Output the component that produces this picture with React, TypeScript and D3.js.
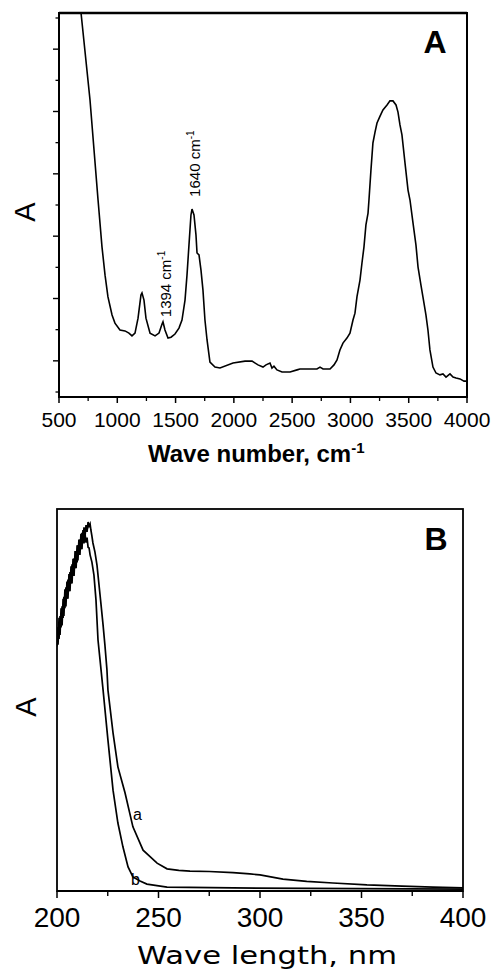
import React from "react";
import * as d3 from "d3";

// Panel A: IR spectrum
const irWavenumber = [689,766,835,869,895,920,955,980,1023,1066,1100,1126,1152,1178,1203,1212,1229,1246,1281,1324,1358,1384,1392,1409,1435,1461,1495,1529,1555,1581,1598,1615,1632,1641,1658,1675,1684,1701,1718,1735,1752,1770,1795,1838,1881,1993,2096,2156,2207,2250,2276,2310,2327,2344,2370,2413,2482,2542,2567,2713,2739,2765,2825,2859,2885,2910,2936,2970,2996,3022,3039,3056,3082,3099,3116,3133,3151,3159,3176,3193,3211,3228,3254,3279,3314,3339,3365,3391,3408,3425,3442,3468,3494,3511,3537,3562,3580,3605,3622,3648,3665,3682,3708,3734,3768,3794,3820,3854,3880,3906,3940,3974,4000];
const irAbs = [12.16,9.37,6.16,4.65,3.75,3.05,2.47,2.21,1.99,1.96,1.89,1.80,1.89,2.37,3.11,3.18,2.95,2.37,1.89,1.80,1.89,2.18,2.25,1.99,1.73,1.76,1.86,2.05,2.31,2.95,3.75,4.72,5.68,5.87,5.68,5.04,4.46,4.40,3.91,3.27,2.31,1.67,0.96,0.80,0.77,0.93,0.99,0.99,0.87,0.80,0.87,0.93,0.77,0.83,0.71,0.64,0.64,0.71,0.74,0.74,0.80,0.74,0.74,0.87,1.03,1.35,1.57,1.73,1.89,2.31,2.53,3.05,3.59,4.14,4.65,5.36,5.74,6.16,7.12,7.99,8.34,8.63,8.85,9.05,9.21,9.34,9.34,9.21,8.98,8.57,8.25,7.35,6.48,6.16,5.42,4.72,4.01,3.43,3.05,2.47,1.99,1.35,0.80,0.61,0.55,0.58,0.48,0.58,0.48,0.45,0.42,0.35,0.35];
const irXTicks = [500,1000,1500,2000,2500,3000,3500,4000];
const irXMinor = [750,1250,1750,2250,2750,3250,3750];
const irYMajor = [1,3,5,7,9,11];
const irYMinor = [0,2,4,6,8,10,12];
const irPeaks = [
  { wn: 1394, label: "1394 cm", at: 2.4 },
  { wn: 1640, label: "1640 cm", at: 6.26 },
];

// Panel B: UV spectra
const uvNmA = [200.0,200.5,201.0,201.5,202.0,202.5,203.0,203.4,203.9,204.4,204.9,205.4,205.9,206.4,206.9,207.4,207.9,208.4,208.9,209.4,209.9,210.3,210.8,211.3,211.8,212.3,212.8,213.3,213.8,214.3,214.8,215.3,215.8,216.3,216.7,217.2,217.7,218.7,219.7,220.7,221.7,222.7,223.6,224.6,225.1,227.6,230.0,233.5,237.4,242.4,249.3,254.2,260.0,265.5,275.0,286.7,295.0,300.0,311.3,323.0,335.9,352.7,370.0,385.2,400.0];
const uvAbsA = [0.640,0.690,0.660,0.720,0.690,0.745,0.715,0.770,0.740,0.795,0.765,0.815,0.785,0.835,0.805,0.855,0.825,0.870,0.845,0.890,0.860,0.905,0.880,0.920,0.895,0.938,0.912,0.952,0.928,0.958,0.940,0.966,0.955,0.961,0.945,0.929,0.911,0.887,0.853,0.801,0.749,0.696,0.644,0.579,0.526,0.414,0.325,0.257,0.168,0.107,0.073,0.058,0.054,0.052,0.051,0.048,0.045,0.042,0.031,0.025,0.021,0.016,0.013,0.010,0.008];
const uvNmB = [200.0,200.5,201.0,201.5,202.0,202.5,203.0,203.4,203.9,204.4,204.9,205.4,205.9,206.4,206.9,207.4,207.9,208.4,208.9,209.4,209.9,210.3,210.8,211.3,211.8,212.3,212.8,213.3,213.8,214.3,214.8,215.3,215.8,216.3,217.2,218.2,219.2,220.2,221.2,222.7,225.1,227.6,230.0,232.5,235.0,237.4,240.9,244.3,254.2,286.7,400.0];
const uvAbsB = [0.690,0.645,0.715,0.670,0.740,0.695,0.765,0.720,0.790,0.745,0.810,0.765,0.830,0.785,0.850,0.805,0.870,0.825,0.890,0.845,0.905,0.865,0.920,0.880,0.935,0.895,0.945,0.910,0.935,0.912,0.925,0.900,0.898,0.880,0.861,0.827,0.762,0.657,0.605,0.526,0.395,0.264,0.178,0.115,0.063,0.037,0.026,0.018,0.010,0.008,0.005];
const uvXTicks = [200,250,300,350,400];
const uvXMinor = [225,275,325,375];

const FONT = "'Liberation Sans', Arial, sans-serif";

export default function App() {
  // Panel A geometry
  const ax = d3.scaleLinear().domain([500, 4000]).range([59, 467]);
  const ay = d3.scaleLinear().domain([-0.16, 12.16]).range([397, 13]);
  const irLine = d3
    .line<number>()
    .x((_, i) => ax(irWavenumber[i]))
    .y((d) => ay(d));

  // Panel B geometry
  const bx = d3.scaleLinear().domain([200, 400]).range([57, 463]);
  const by = d3.scaleLinear().domain([0, 1]).range([891, 509]);
  const lineA = d3
    .line<number>()
    .x((_, i) => bx(uvNmA[i]))
    .y((d) => by(d));
  const lineB = d3
    .line<number>()
    .x((_, i) => bx(uvNmB[i]))
    .y((d) => by(d));

  const aTop = ay.range()[1];
  const aBot = ay.range()[0];
  const aL = ax.range()[0];
  const aR = ax.range()[1];
  const bTop = by.range()[1];
  const bBot = by.range()[0];
  const bL = bx.range()[0];
  const bR = bx.range()[1];

  return (
    <svg
      width={496}
      height={975}
      style={{ position: "absolute", left: 0, top: 0, background: "#fff" }}
      fontFamily={FONT}
    >
      <rect x={0} y={0} width={496} height={975} fill="#fff" />
      <defs>
        <clipPath id="clipA">
          <rect x={aL} y={aTop} width={aR - aL} height={aBot - aTop} />
        </clipPath>
        <clipPath id="clipB">
          <rect x={bL} y={bTop} width={bR - bL} height={bBot - bTop} />
        </clipPath>
      </defs>

      {/* ---------- Panel A ---------- */}
      <path d={irLine(irAbs) || ""} fill="none" stroke="#000" strokeWidth={1.6} clipPath="url(#clipA)" />
      <rect x={aL} y={aTop} width={aR - aL} height={aBot - aTop} fill="none" stroke="#000" strokeWidth={2} />
      <line x1={aL} x2={aR} y1={aTop} y2={aTop} stroke="#000" strokeWidth={2.6} />
      {irXTicks.map((t) => (
        <line key={"axm" + t} x1={ax(t)} x2={ax(t)} y1={aBot} y2={aBot + 6} stroke="#000" strokeWidth={1.5} />
      ))}
      {irXMinor.map((t) => (
        <line key={"axn" + t} x1={ax(t)} x2={ax(t)} y1={aBot} y2={aBot + 4} stroke="#000" strokeWidth={1.3} />
      ))}
      {irYMajor.map((t) => (
        <line key={"aym" + t} x1={aL - 6} x2={aL} y1={ay(t)} y2={ay(t)} stroke="#000" strokeWidth={1.4} />
      ))}
      {irYMinor.map((t) => (
        <line key={"ayn" + t} x1={aL - 3.5} x2={aL} y1={ay(t)} y2={ay(t)} stroke="#000" strokeWidth={1.3} />
      ))}
      {irXTicks.map((t) => (
        <text key={"axl" + t} x={ax(t)} y={427} fontSize={21} textAnchor="middle" fill="#000">
          {t}
        </text>
      ))}
      <text x={148} y={462} fontSize={24} fontWeight="bold" fill="#000">
        Wave number, cm
        <tspan dy={-9} fontSize={15}>-1</tspan>
      </text>
      <text transform="translate(35,212) rotate(-90)" fontSize={29} textAnchor="middle" fill="#000">
        A
      </text>
      <text x={435} y={53} fontSize={32} fontWeight="bold" textAnchor="middle" fill="#000">
        A
      </text>
      {irPeaks.map((p) => (
        <text
          key={"pk" + p.wn}
          transform={`translate(${ax(p.wn) + 8},${ay(p.at)}) rotate(-90)`}
          fontSize={15}
          fill="#000"
        >
          {p.label}
          <tspan dy={-6} fontSize={10}>-1</tspan>
        </text>
      ))}

      {/* ---------- Panel B ---------- */}
      <g clipPath="url(#clipB)">
        <path d={lineA(uvAbsA) || ""} fill="none" stroke="#000" strokeWidth={1.7} />
        <path d={lineB(uvAbsB) || ""} fill="none" stroke="#000" strokeWidth={1.7} />
      </g>
      <rect x={bL} y={bTop} width={bR - bL} height={bBot - bTop} fill="none" stroke="#000" strokeWidth={1.8} />
      <line x1={bL} x2={bR} y1={bBot} y2={bBot} stroke="#000" strokeWidth={2.2} />
      {uvXTicks.map((t) => (
        <line key={"bxm" + t} x1={bx(t)} x2={bx(t)} y1={bBot} y2={bBot + 7} stroke="#000" strokeWidth={1.5} />
      ))}
      {uvXMinor.map((t) => (
        <line key={"bxn" + t} x1={bx(t)} x2={bx(t)} y1={bBot} y2={bBot + 5} stroke="#000" strokeWidth={1.4} />
      ))}
      {uvXTicks.map((t) => (
        <text key={"bxl" + t} x={bx(t)} y={927} fontSize={28} textAnchor="middle" fill="#000">
          {t}
        </text>
      ))}
      <text
        x={137}
        y={964}
        fontSize={25}
        fontFamily="'DejaVu Sans', Verdana, sans-serif"
        textLength={260}
        lengthAdjust="spacingAndGlyphs"
        fill="#000"
      >
        Wave length, nm
      </text>
      <text transform="translate(36,707) rotate(-90)" fontSize={29} textAnchor="middle" fill="#000">
        A
      </text>
      <text x={436} y={550} fontSize={32} fontWeight="bold" textAnchor="middle" fill="#000">
        B
      </text>
      <text x={133} y={820} fontSize={16} fill="#000">
        a
      </text>
      <text x={131} y={885} fontSize={16} fill="#000">
        b
      </text>
    </svg>
  );
}
